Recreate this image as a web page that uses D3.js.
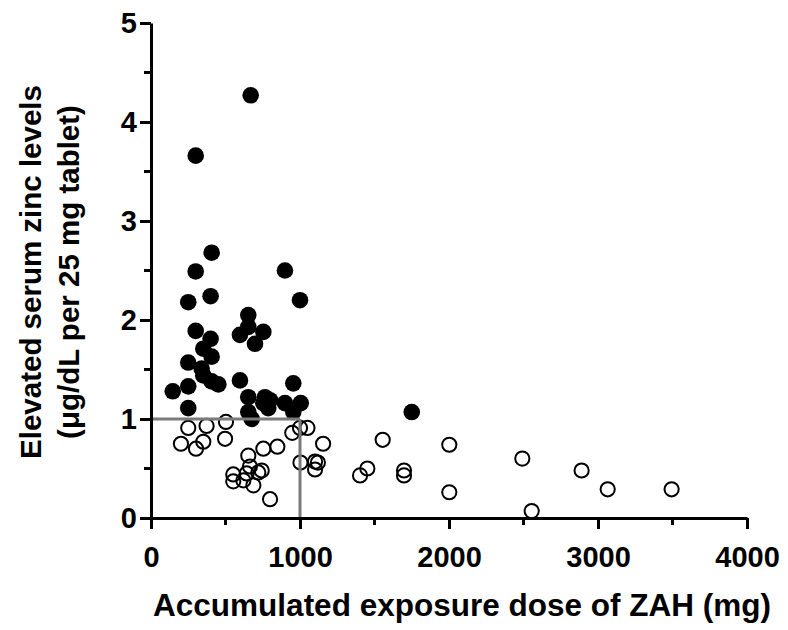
<!DOCTYPE html>
<html>
<head>
<meta charset="utf-8">
<script src="https://cdn.jsdelivr.net/npm/d3@7"></script>
<style>
  html, body { margin: 0; padding: 0; background: #fff; }
  svg { display: block; }
  text { font-family: "Liberation Sans", Arial, sans-serif; font-weight: bold; fill: #000; }
</style>
</head>
<body>
<div id="chart"></div>
<script>
// Accumulated ZAH dose (mg) vs. elevated serum zinc (µg/dL per 25 mg tablet)
// Patients above the 1.0 threshold (filled)
const highDose = [146,250,250,250,250,300,300,300,340,351,351,400,400,407,407,407,452,597,597,653,653,653,653,669,676,698,754,754,765,799,787,899,899,955,955,1000,1005,1750];
const highZinc = [1.28,1.11,1.33,1.57,2.18,1.89,2.49,3.66,1.51,1.71,1.44,2.24,1.81,2.68,1.63,1.38,1.35,1.85,1.39,2.05,1.93,1.22,1.07,4.27,1.00,1.76,1.88,1.16,1.22,1.19,1.11,2.50,1.16,1.36,1.07,2.20,1.16,1.07];
// Patients at or below the threshold (open)
const lowDose = [201,250,302,351,373,497,503,552,552,620,642,653,664,687,720,743,754,799,848,948,1000,1050,1155,1003,1101,1120,1101,1403,1452,1555,1698,1698,2002,2002,2492,2555,2890,3065,3494];
const lowZinc = [0.75,0.91,0.70,0.77,0.93,0.80,0.97,0.44,0.37,0.38,0.45,0.63,0.52,0.33,0.46,0.48,0.70,0.19,0.72,0.86,0.91,0.91,0.75,0.56,0.57,0.56,0.49,0.43,0.50,0.79,0.48,0.43,0.74,0.26,0.60,0.07,0.48,0.29,0.29];

const xTicks = [0, 1000, 2000, 3000, 4000];
const xMinorTicks = [500, 1500, 2500, 3500];
const yTicks = [0, 1, 2, 3, 4, 5];
const yMinorTicks = [0.5, 1.5, 2.5, 3.5, 4.5];
const doseCut = 1000, zincCut = 1;

const W = 788, H = 630;
const x = d3.scaleLinear().domain([0, 4000]).range([151, 747]);
const y = d3.scaleLinear().domain([0, 5]).range([518, 23]);

const svg = d3.select("#chart").append("svg").attr("width", W).attr("height", H);

const high = highDose.map((d, i) => ({ dose: d, zinc: highZinc[i] }));
const low = lowDose.map((d, i) => ({ dose: d, zinc: lowZinc[i] }));

// open circles
svg.append("g").selectAll("circle").data(low).join("circle")
  .attr("cx", d => x(d.dose)).attr("cy", d => y(d.zinc)).attr("r", 7.1)
  .attr("fill", "none").attr("stroke", "#000").attr("stroke-width", 2);

// filled circles
svg.append("g").selectAll("circle").data(high).join("circle")
  .attr("cx", d => x(d.dose)).attr("cy", d => y(d.zinc)).attr("r", 8.3)
  .attr("fill", "#000");

// threshold lines
const thr = svg.append("g").attr("stroke", "#7a7a7a").attr("stroke-width", 3).attr("fill", "none");
thr.append("line").attr("x1", x(0)).attr("x2", x(doseCut)).attr("y1", y(zincCut)).attr("y2", y(zincCut));
thr.append("line").attr("x1", x(doseCut)).attr("x2", x(doseCut)).attr("y1", y(zincCut)).attr("y2", y(0));

// axes
const xAxis = svg.append("g").attr("transform", `translate(0,${y(0)})`)
  .call(d3.axisBottom(x).tickValues(xTicks).tickSize(11).tickSizeOuter(0).tickFormat(d3.format("d")));
const yAxis = svg.append("g").attr("transform", `translate(${x(0)},0)`)
  .call(d3.axisLeft(y).tickValues(yTicks).tickSize(11).tickSizeOuter(0).tickFormat(d3.format("d")));

[xAxis, yAxis].forEach(g => {
  g.select(".domain").attr("stroke", "#000").attr("stroke-width", 3);
  g.selectAll(".tick line").attr("stroke", "#000").attr("stroke-width", 3);
  g.selectAll(".tick text").style("font-size", "29px").attr("fill", "#000");
});
xAxis.selectAll(".tick text").attr("dy", "0.71em").attr("y", 28);
yAxis.selectAll(".tick text").attr("x", -14);

// minor ticks
svg.append("g").selectAll("line").data(xMinorTicks).join("line")
  .attr("x1", d => x(d)).attr("x2", d => x(d)).attr("y1", y(0)).attr("y2", y(0) + 7)
  .attr("stroke", "#000").attr("stroke-width", 3);
svg.append("g").selectAll("line").data(yMinorTicks).join("line")
  .attr("x1", x(0) - 7).attr("x2", x(0)).attr("y1", d => y(d)).attr("y2", d => y(d))
  .attr("stroke", "#000").attr("stroke-width", 3);

// axis titles
svg.append("text").attr("x", 462).attr("y", 616).attr("text-anchor", "middle")
  .style("font-size", "31.5px").text("Accumulated exposure dose of ZAH (mg)");

const yt = svg.append("text").attr("transform", "translate(0,272) rotate(-90)")
  .attr("text-anchor", "middle").style("font-size", "29.5px");
yt.append("tspan").attr("x", 0).attr("y", 41).text("Elevated serum zinc levels");
yt.append("tspan").attr("x", 0).attr("y", 79).text("(μg/dL per 25 mg tablet)");
</script>
</body>
</html>
